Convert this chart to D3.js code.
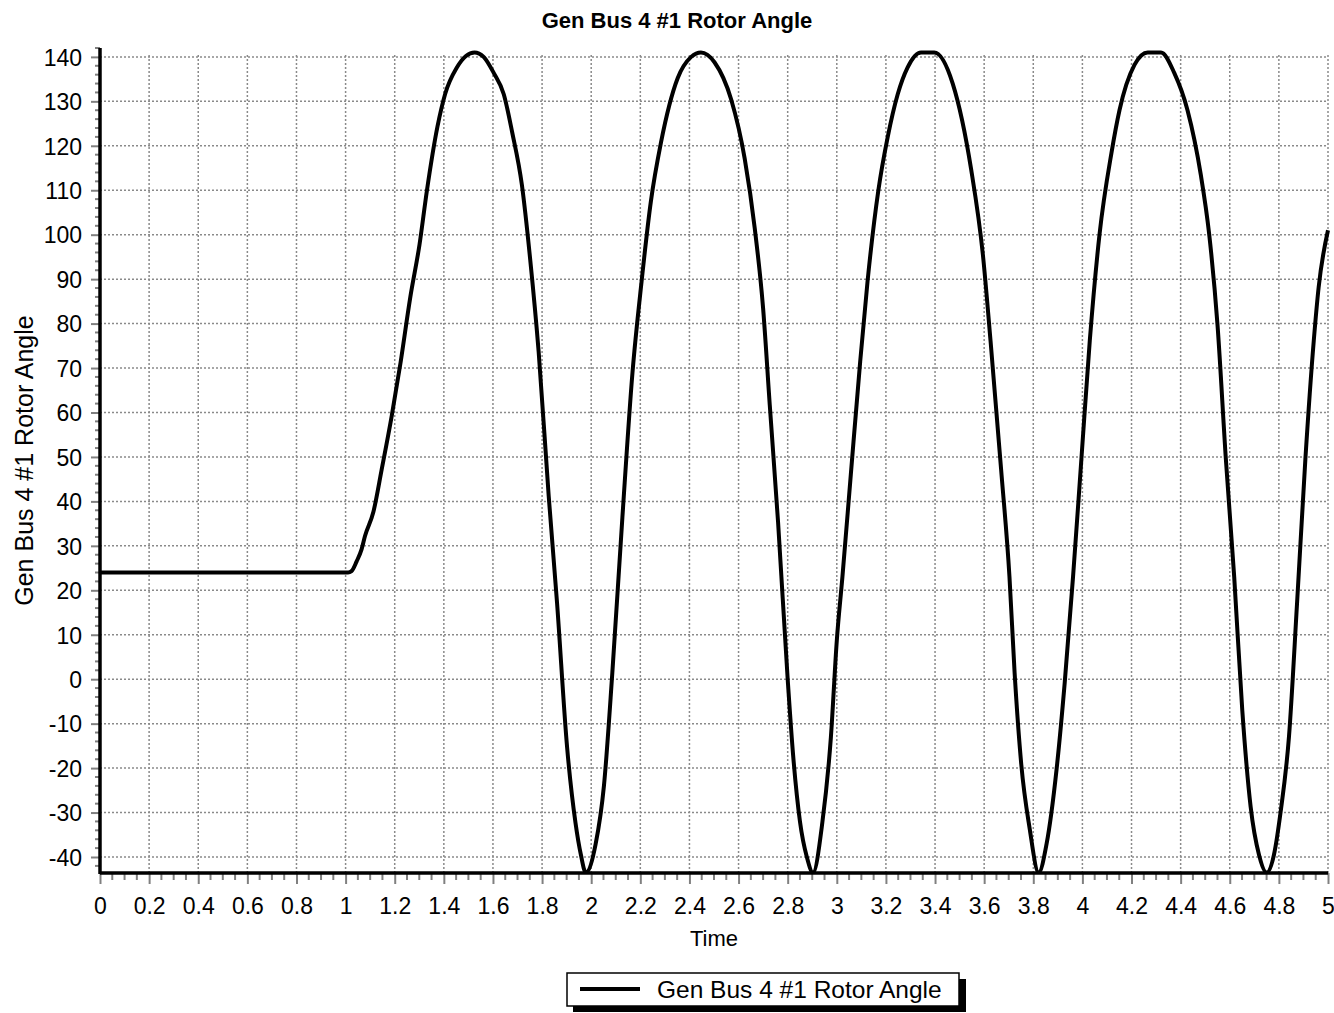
<!DOCTYPE html>
<html><head><meta charset="utf-8">
<script src="https://cdn.jsdelivr.net/npm/d3@7"></script>
<style>
body{margin:0;background:#fff;}
text{font-family:"Liberation Sans",Arial,sans-serif;fill:#000;}
</style></head>
<body>
<svg id="chart" width="1334" height="1013"></svg>
<script>
const title = "Gen Bus 4 #1 Rotor Angle";
const seriesName = "Gen Bus 4 #1 Rotor Angle";
const xLabel = "Time";
const yLabel = "Gen Bus 4 #1 Rotor Angle";

const time = [0, 1.0, 1.01, 1.024, 1.045, 1.065, 1.079, 1.113, 1.147, 1.188, 1.224, 1.263, 1.301, 1.331, 1.374, 1.405, 1.453, 1.49, 1.525, 1.562, 1.603, 1.644, 1.678, 1.718, 1.752, 1.786, 1.827, 1.861, 1.902, 1.936, 1.958, 1.978,
  2.018, 2.052, 2.086, 2.127, 2.168, 2.205, 2.243, 2.284, 2.352, 2.407, 2.447, 2.502, 2.570, 2.625, 2.666, 2.700, 2.727, 2.761, 2.8, 2.822, 2.85, 2.878, 2.903,
  2.941, 2.976, 3.0, 3.023, 3.057, 3.095, 3.125, 3.169, 3.207, 3.248, 3.288, 3.343, 3.397, 3.472, 3.547, 3.595, 3.626, 3.669, 3.703, 3.724, 3.751, 3.785, 3.822,
  3.854, 3.895, 3.928, 3.962, 3.996, 4.030, 4.07, 4.118, 4.151, 4.212, 4.266, 4.320, 4.374, 4.428, 4.482, 4.516, 4.550, 4.584, 4.618, 4.651, 4.685, 4.719, 4.75,
  4.78, 4.807, 4.841, 4.874, 4.908, 4.942, 4.962, 5.0];
const angle = [24, 24, 24, 24.3, 26.5, 29.2, 32.2, 37.6, 47.2, 59.3, 71.3, 85.8, 97.8, 109.9, 124.3, 131.6, 137.6, 140.2, 141, 140, 136.4, 131.6, 123.1, 111.1, 94.2, 73.7, 41.2, 17.1, -15.4, -32.3, -39.5, -43.5,
  -37.1, -23.9, 1.4, 36.4, 68.9, 89.4, 107.5, 120.7, 135.2, 140, 141, 138.8, 130.4, 117.1, 101.4, 83.4, 61.7, 35.2, 0, -17, -32, -40, -43.5,
  -32.3, -13, 8.7, 23.1, 46, 71.3, 89.4, 109.9, 121.9, 131.6, 137.6, 141, 141, 134, 114.7, 95.4, 76.1, 47.2, 23.1, 1.4, -19.1, -33.5, -43.5,
  -37.1, -20.2, -0.8, 23.1, 49.6, 76.1, 100.2, 118.3, 128, 138.2, 141, 141, 136.4, 128, 113.5, 100.2, 79.8, 49.6, 23.1, -7, -28.7, -39.5, -43.5,
  -39.5, -29.9, -13, 17.1, 49.6, 76.1, 88.2, 101];

const xTicks = [0,0.2,0.4,0.6,0.8,1,1.2,1.4,1.6,1.8,2,2.2,2.4,2.6,2.8,3,3.2,3.4,3.6,3.8,4,4.2,4.4,4.6,4.8,5];
const yTicks = [-40,-30,-20,-10,0,10,20,30,40,50,60,70,80,90,100,110,120,130,140];
const xDomain = [0, 5];
const yDomain = [-43.6, 142];

const data = time.map((t,i)=>({t, v: angle[i]}));
const fmt = d => String(+d.toFixed(2)); // plain hyphen-minus like the original

const svg = d3.select("#chart");
const L = 100, R = 1328, T = 48, B = 873;
const x = d3.scaleLinear().domain(xDomain).range([L, R]);
const y = d3.scaleLinear().domain(yDomain).range([B, T]);

// grid
const grid = svg.append("g").attr("stroke","#8a8a8a").attr("stroke-width",1.5).attr("stroke-dasharray","2,2");
grid.selectAll("line.v").data(xTicks.filter(d=>d>0)).join("line")
  .attr("x1",d=>x(d)).attr("x2",d=>x(d)).attr("y1",B).attr("y2",y(140)-2);
grid.selectAll("line.h").data(yTicks).join("line")
  .attr("x1",L).attr("x2",R).attr("y1",d=>y(d)).attr("y2",d=>y(d));

// minor ticks
const xMinor = d3.range(0, 5.0001, 0.05).filter(v=>Math.abs(v/0.2-Math.round(v/0.2))>1e-6);
svg.append("g").attr("stroke","#808080").attr("stroke-width",2)
  .selectAll("line").data(xMinor).join("line")
  .attr("x1",d=>x(d)).attr("x2",d=>x(d)).attr("y1",B).attr("y2",B+7);
const yMinor = d3.range(-42, 142.1, 2).filter(v=>v%10!==0);
svg.append("g").attr("stroke","#808080").attr("stroke-width",2)
  .selectAll("line").data(yMinor).join("line")
  .attr("x1",L-5).attr("x2",L).attr("y1",d=>y(d)).attr("y2",d=>y(d));

// axes
const xAxis = svg.append("g").attr("transform",`translate(0,${B})`)
  .call(d3.axisBottom(x).tickValues(xTicks).tickFormat(fmt).tickSize(11).tickPadding(14));
const yAxis = svg.append("g").attr("transform",`translate(${L},0)`)
  .call(d3.axisLeft(y).tickValues(yTicks).tickFormat(fmt).tickSize(9).tickPadding(9));
[xAxis,yAxis].forEach(a=>{
  a.select(".domain").remove();
  a.selectAll(".tick line").attr("stroke","#808080").attr("stroke-width",2);
  a.selectAll(".tick text").attr("font-size",23).attr("font-family","Liberation Sans, Arial, sans-serif").attr("fill","#000");
});
yAxis.selectAll(".tick text").attr("dy","0.36em");

// axis lines
svg.append("line").attr("x1",L).attr("x2",L).attr("y1",T).attr("y2",B+1).attr("stroke","#000").attr("stroke-width",3.5);
svg.append("line").attr("x1",L).attr("x2",R).attr("y1",B).attr("y2",B).attr("stroke","#000").attr("stroke-width",3.5);

// clip and series
svg.append("clipPath").attr("id","clip").append("rect").attr("x",L).attr("y",T-4).attr("width",R-L+2).attr("height",B-T+4);
const line = d3.line().x(d=>x(d.t)).y(d=>y(d.v)).curve(d3.curveMonotoneX);
svg.append("path").datum(data).attr("clip-path","url(#clip)")
  .attr("d",line).attr("fill","none").attr("stroke","#000").attr("stroke-width",4).attr("stroke-linejoin","round");

// titles
svg.append("text").attr("x",677).attr("y",28).attr("text-anchor","middle").attr("font-size",22).attr("font-weight","bold").text(title);
svg.append("text").attr("x",(L+R)/2).attr("y",946).attr("text-anchor","middle").attr("font-size",22).text(xLabel);
svg.append("text").attr("transform",`translate(33,${(T+B)/2}) rotate(-90)`).attr("text-anchor","middle").attr("font-size",25).text(yLabel);

// legend
const lg = svg.append("g");
lg.append("rect").attr("x",573).attr("y",979).attr("width",393).attr("height",33).attr("fill","#000");
lg.append("rect").attr("x",567).attr("y",973).attr("width",392).attr("height",33).attr("fill","#fff").attr("stroke","#000").attr("stroke-width",1.5);
lg.append("line").attr("x1",580).attr("x2",640).attr("y1",989).attr("y2",989).attr("stroke","#000").attr("stroke-width",4);
lg.append("text").attr("x",657).attr("y",998).attr("font-size",24.5).text(seriesName);
</script>
</body></html>
